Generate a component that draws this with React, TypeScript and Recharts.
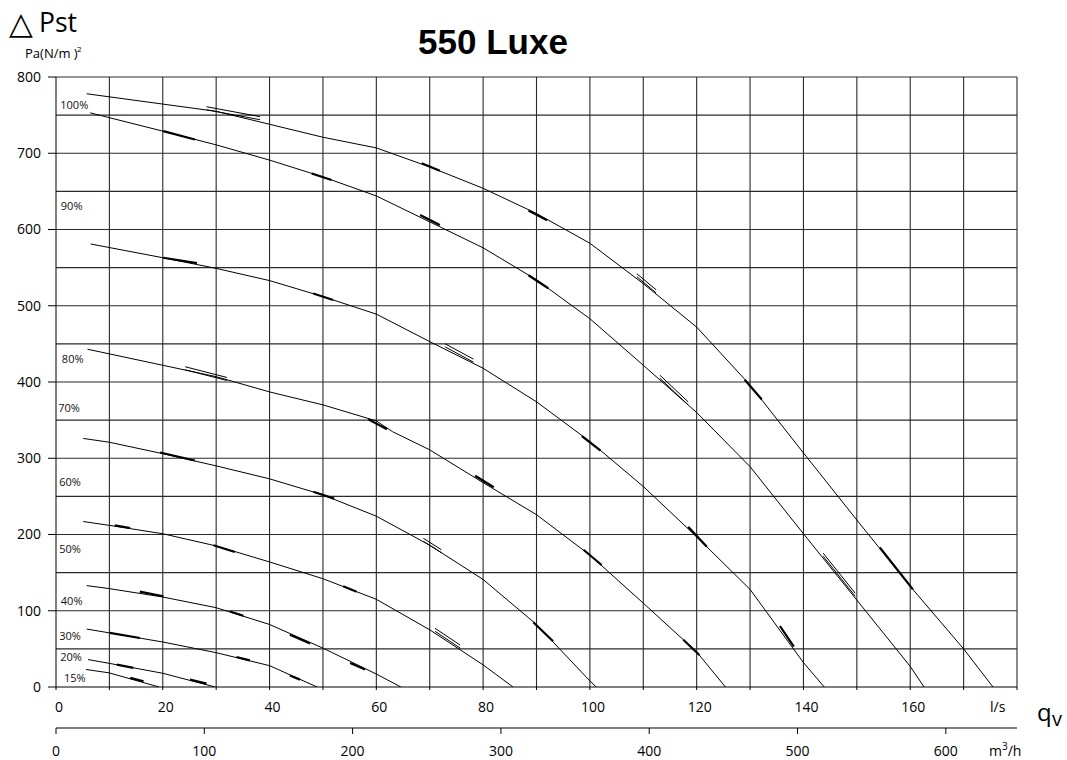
import React from 'react';
import { ComposedChart, Line, XAxis, YAxis, ReferenceLine, ReferenceDot } from 'recharts';

// Fan curves: [flow l/s, static pressure Pa]
const curve100: number[][] = [[5.75,778],[30,755],[50,721],[60,707],[70,682],[80,654],[90,621],[100,582],[110,529],[120,472],[130,396],[140,307],[150,219],[160,132],[170,50],[175.5,0]];
const curve90: number[][] = [[6.4,753],[20,729],[30,711],[40,691],[50,669],[60,644],[70,610],[80,576],[90,534],[100,483],[110,422],[120,360],[130,289],[140,201],[150,114],[160,27],[162.6,0]];
const curve80: number[][] = [[6.5,581],[20,563],[30,549],[40,533],[50,512],[60,489],[70,453],[80,418],[90,374],[100,322],[110,263],[120,197],[130,128],[140,32],[143.9,0]];
const curve70: number[][] = [[5.9,443],[30,407],[40,387],[50,370],[60,349],[63,335],[70,311],[80,268],[90,226],[100,173],[110,110],[120,46],[125.4,0]];
const curve60: number[][] = [[5.1,326],[10,321],[20,306],[30,290],[40,273],[50,252],[60,224],[70,186],[80,141],[90,82],[100,8],[101.2,0]];
const curve50: number[][] = [[5.1,217],[10,212],[20,201],[30,185],[40,164],[50,142],[60,115],[70,75],[80,29],[85.6,0]];
const curve40: number[][] = [[5.75,133],[10,129],[20,118],[30,104],[40,82],[50,51],[60,17],[64.6,0]];
const curve30: number[][] = [[5.75,76],[10,71],[20,59],[30,45],[40,28],[48.9,0]];
const curve20: number[][] = [[6,36],[10,31],[20,18],[29.8,0]];
const curve15: number[][] = [[5.6,23],[10,18.5],[19.3,0]];

const curves = [curve100, curve90, curve80, curve70, curve60, curve50, curve40, curve30, curve20, curve15];

// Efficiency marks: [q1, p1, q2, p2]
const thickMarks: number[][] = [
  [68.5,687,71.9,677],[88.5,625,92,612],[129,403,132.2,377],[154.3,183,160.5,128],
  [20.1,729,26,718],[47.9,673.5,51.6,665],[68.2,619,71.9,606],[88.5,540,92.2,523],
  [20.1,563,26.4,556],[48.2,516,51.9,507.5],[98.5,329,102,310],[118.4,210,121.9,184],[135.6,80,138.2,53],
  [58.5,351,62,338],[78.5,277,82,262],[98.8,180,102.2,160],[117.5,62,120.5,42],
  [19.5,307.5,26,297],[48.2,256,52.1,247],[89.4,85,93.1,60],
  [11,212,13.9,208.5],[29.5,186,33.5,177],[53.8,132,56.3,125],
  [15.7,125,20.1,119],[32.6,99,35.1,93.5],[43.8,68.6,47.6,57],[55.1,31.6,57.9,22.8],
  [10.1,71,15.7,64.3],[33.8,39.4,36.3,35],[43.8,15,45.7,9.7],
  [11.4,29.3,14.5,25],[25.1,9.7,28.2,4.5],
  [13.9,12,16.4,7.5],
];
const doubleMarks: number[][] = [
  [28.2,759,38.2,746],[108.8,540,112.4,519],
  [113.1,407,118.4,372],[143.7,173.5,149.7,121],
  [72.9,448,78.2,428],
  [24.2,418,32,404],
  [68.8,193,72.2,178],
  [71,75,75.7,53],
];

const labelTexts = ['100%','90%','80%','70%','60%','50%','40%','30%','20%','15%'];
const labelQ = [0.8,0.9,1.1,0.4,0.6,0.6,0.9,0.6,0.8,1.5];
const labelP = [764,632,431,366,270,181,113,67,40,13];

const xTicksLs = [0,10,20,30,40,50,60,70,80,90,100,110,120,130,140,150,160,170,180];
const xTicksM3 = [0,100,200,300,400,500,600];
const yTicks = [0,100,200,300,400,500,600,700,800];
const gridX = [10,20,30,40,50,60,70,80,90,100,110,120,130,140,150,160,170,180];
const gridY = [50,100,150,200,250,300,350,400,450,500,550,600,650,700,750,800];
const m3Range = [{ m: 0, p: 0 }, { m: 648, p: 0 }];

const tickFont = { fontSize: 14, fontFamily: 'Open Sans', fill: '#000' };

const seg = (m: number[], off = 0) => [
  { q: m[0], p: m[1] + off },
  { q: m[2], p: m[3] + off },
];

export default function App() {
  return (
    <div style={{ position: 'absolute', left: 0, top: 0, width: 1067, height: 760, background: '#fff' }}>
      <ComposedChart width={1067} height={760} margin={{ top: 77, right: 50, left: 0, bottom: 0 }}>
        <XAxis
          xAxisId={0}
          dataKey="q"
          type="number"
          domain={[0, 180]}
          ticks={xTicksLs}
          allowDataOverflow
          height={41}
          tickSize={3}
          tickMargin={12}
          interval={0}
          tickFormatter={(v: number) => (v % 20 === 0 && v <= 160 ? String(v) : '')}
          tick={{ ...tickFont, dx: 3 }}
          stroke="#000"
          axisLine={{ stroke: '#000' }}
          tickLine={{ stroke: '#000' }}
        />
        <XAxis
          xAxisId="m3"
          dataKey="m"
          type="number"
          domain={[0, 648]}
          ticks={xTicksM3}
          allowDataOverflow
          height={32}
          tickSize={6}
          tickMargin={12}
          interval={0}
          tick={tickFont}
          stroke="#000"
          axisLine={{ stroke: '#000' }}
          tickLine={{ stroke: '#000' }}
        />
        <YAxis
          type="number"
          domain={[0, 800]}
          ticks={yTicks}
          allowDataOverflow
          width={56}
          tickSize={8}
          tickMargin={7}
          interval={0}
          tick={tickFont}
          stroke="#000"
          axisLine={{ stroke: '#000' }}
          tickLine={{ stroke: '#000' }}
        />
        {gridX.map((x) => (
          <ReferenceLine key={'gx' + x} x={x} stroke="#2a2a2a" strokeWidth={1.1} ifOverflow="extendDomain" />
        ))}
        {gridY.map((y) => (
          <ReferenceLine key={'gy' + y} y={y} stroke="#2a2a2a" strokeWidth={1.1} ifOverflow="extendDomain" />
        ))}
        <Line xAxisId="m3" data={m3Range} dataKey="p" stroke="none" dot={false} activeDot={false} isAnimationActive={false} legendType="none" />
        {curves.map((c, i) => (
          <Line
            key={'c' + i}
            data={c.map(([q, p]) => ({ q, p }))}
            dataKey="p"
            type="linear"
            stroke="#000"
            strokeWidth={1}
            dot={false}
            activeDot={false}
            isAnimationActive={false}
          />
        ))}
        {thickMarks.map((m, i) => (
          <Line
            key={'tm' + i}
            data={seg(m)}
            dataKey="p"
            type="linear"
            stroke="#000"
            strokeWidth={2.2}
            dot={false}
            activeDot={false}
            isAnimationActive={false}
          />
        ))}
        {doubleMarks.map((m, i) => (
          <Line
            key={'dmA' + i}
            data={seg(m, 2)}
            dataKey="p"
            type="linear"
            stroke="#000"
            strokeWidth={1}
            dot={false}
            activeDot={false}
            isAnimationActive={false}
          />
        ))}
        {doubleMarks.map((m, i) => (
          <Line
            key={'dmB' + i}
            data={seg(m, -2)}
            dataKey="p"
            type="linear"
            stroke="#000"
            strokeWidth={1}
            dot={false}
            activeDot={false}
            isAnimationActive={false}
          />
        ))}
        {labelTexts.map((t, i) => (
          <ReferenceDot
            key={'lb' + i}
            x={labelQ[i]}
            y={labelP[i]}
            r={0}
            shape={(props: any) => (
              <text
                x={props.cx}
                y={props.cy}
                dominantBaseline="central"
                textAnchor="start"
                fontSize={11}
                fontFamily="Open Sans"
                fill="#111"
              >
                {t}
              </text>
            )}
          />
        ))}
      </ComposedChart>
      <svg width={1067} height={760} style={{ position: 'absolute', left: 0, top: 0, pointerEvents: 'none' }}>
        <text x={493} y={54} textAnchor="middle" fontSize={35} fontWeight="bold" fontFamily="Liberation Sans, Arial, sans-serif" fill="#000">
          550 Luxe
        </text>
        <text x={9} y={34} fontSize={31} fontFamily="DejaVu Sans" fill="#000">△</text>
        <text x={39} y={32} fontSize={28} fontFamily="Open Sans" fill="#000" textLength={38} lengthAdjust="spacingAndGlyphs">Pst</text>
        <text x={25} y={58} fontSize={13} fontFamily="Open Sans" fill="#000">Pa(N/m )</text>
        <text x={77} y={52} fontSize={8} fontFamily="Open Sans" fill="#000">2</text>
        <text x={990} y={712} fontSize={14} fontFamily="Open Sans" fill="#000">l/s</text>
        <text x={1037} y={721} fontSize={24} fontFamily="Open Sans" fill="#000">q</text>
        <text x={1052} y={726} fontSize={20} fontFamily="Open Sans" fill="#000">v</text>
        <text x={989} y={756} fontSize={14} fontFamily="Open Sans" fill="#000">
          m<tspan dy={-6} fontSize={10}>3</tspan><tspan dy={6}>/h</tspan>
        </text>
      </svg>
    </div>
  );
}
